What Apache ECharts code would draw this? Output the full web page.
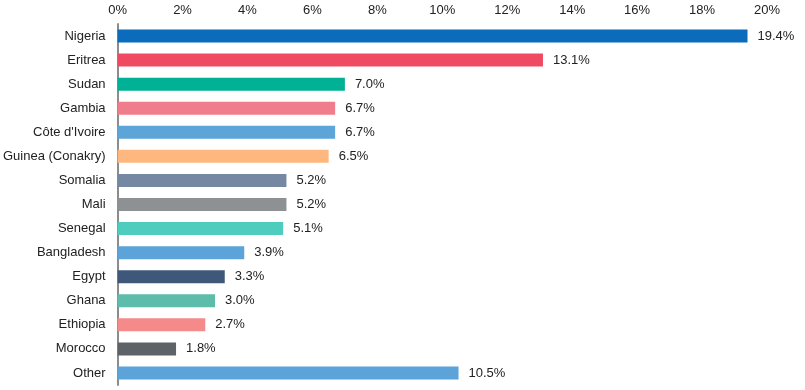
<!DOCTYPE html>
<html><head><meta charset="utf-8">
<script src="https://cdn.jsdelivr.net/npm/echarts@6/dist/echarts.min.js"></script>
<style>html,body{margin:0;padding:0;background:#fff}#c{width:805px;height:390px}</style>
</head><body><div id="c"></div>
<script>
var categories = ["Nigeria","Eritrea","Sudan","Gambia","Côte d'Ivoire","Guinea (Conakry)","Somalia","Mali","Senegal","Bangladesh","Egypt","Ghana","Ethiopia","Morocco","Other"];
var values = [19.4,13.1,7.0,6.7,6.7,6.5,5.2,5.2,5.1,3.9,3.3,3.0,2.7,1.8,10.5];
var barColors = ["#0a6cbb","#ef4a62","#00b195","#f07d8c","#5da5d8","#fdb77f","#7588a3","#8e9193","#4ecdbf","#5ba3d9","#3f5779","#5ebcaa","#f48a8a","#5e6368","#5ba3d9"];
var chart = echarts.init(document.getElementById('c'));
chart.setOption({
  animation:false,
  grid:{left:117,right:38,top:24,height:361,containLabel:false},
  xAxis:{type:'value',position:'top',min:0,max:20,interval:2,
    axisLabel:{formatter:'{value}%',color:'#222',fontSize:13,fontFamily:'Liberation Sans, Arial',margin:7},
    axisLine:{show:false},axisTick:{show:false},splitLine:{show:false}},
  yAxis:{type:'category',inverse:true,data:categories,
    axisLine:{show:true,lineStyle:{color:'#8c8c8c',width:2}},axisTick:{show:false},
    axisLabel:{color:'#222',fontSize:13,fontFamily:'Liberation Sans, Arial',margin:12}},
  series:[{type:'bar',barWidth:13,
    data:values.map(function(v,i){return {value:v,itemStyle:{color:barColors[i]}};}),
    label:{show:true,position:'right',distance:10,color:'#222',fontSize:13,fontFamily:'Liberation Sans, Arial',
      formatter:function(p){return p.value.toFixed(1)+'%';}}}]
});
</script></body></html>
